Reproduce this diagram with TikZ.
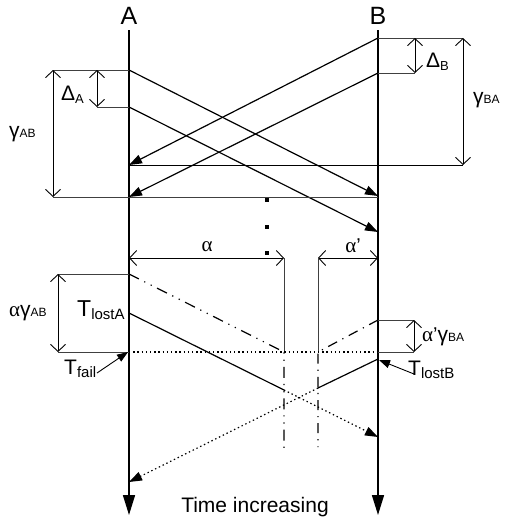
\documentclass[tikz,border=0pt]{standalone}
\usepackage{fontspec}
\setmainfont{Liberation Sans}
\newfontfamily\serifgr{Liberation Serif}
\usetikzlibrary{arrows.meta}
\newcommand\fs[1]{\fontsize{#1}{#1}\selectfont}
\newcommand\mysub[1]{\raisebox{-3pt}{\fs{13}#1}}
\newcommand\mysmall[1]{{\fs{12}#1}}
\newcommand\myalpha{{\serifgr\fs{21}α}}
\begin{document}
\begin{tikzpicture}[x=1pt,y=-1pt,
  axis/.style={line width=1.6pt,-{Triangle[length=20pt,width=12pt]}},
  msg/.style={line width=1.2pt,-{Triangle[length=13pt,width=9pt]}},
  dimline/.style={line width=0.9pt,{Straight Barb[length=7pt,width=15pt]}-{Straight Barb[length=7pt,width=15pt]}},
  extline/.style={line width=0.8pt,black!75},
  ddotline/.style={line width=1.2pt,dash pattern=on 11pt off 6pt on 1.2pt off 6pt on 1.2pt off 6pt},
  dashdotline/.style={line width=1.2pt,dash pattern=on 10pt off 6pt on 1.2pt off 6pt},
  dotline/.style={line width=1.2pt,dash pattern=on 1.4pt off 2.8pt},
  pointer/.style={line width=0.9pt,-{Triangle[length=11pt,width=8pt]}},
  lbl/.style={inner sep=0pt,anchor=base west},
  dotsq/.style={fill=black,inner sep=0pt,minimum size=3.2pt}]
\useasboundingbox (0,0) rectangle (504,517);
% axes
\coordinate (At) at (129,30); \coordinate (Ab) at (129,515);
\coordinate (Bt) at (378,30); \coordinate (Bb) at (378,515);
\draw[axis] (At) -- (Ab);
\draw[axis] (Bt) -- (Bb);
\node[inner sep=0pt,font=\fs{25}] (labA) at (129,16) {A};
\node[inner sep=0pt,font=\fs{25}] (labB) at (378,16) {B};
% top messages
\coordinate (a1) at (129,70);  \coordinate (b1) at (378,196);
\coordinate (a2) at (129,107); \coordinate (b2) at (378,232);
\coordinate (b3) at (378,38);  \coordinate (a3) at (129,165);
\coordinate (b4) at (378,73);  \coordinate (a4) at (129,197);
\draw[msg] (a1) -- (b1);
\draw[msg] (a2) -- (b2);
\draw[msg] (b3) -- (a3);
\draw[msg] (b4) -- (a4);
% horizontals / extension lines
\coordinate (h1r) at (463,165);
\coordinate (h2l) at (53,197); \coordinate (h2r) at (378,197);
\draw[line width=1pt] (a3) -- (h1r);
\draw[extline] (h2l) -- (h2r);
\coordinate (e1l) at (53,70);
\coordinate (e2l) at (97,107);
\coordinate (e3r) at (463,38);
\coordinate (e4r) at (415,73);
\draw[extline] (e1l) -- (a1);
\draw[extline] (e2l) -- (a2);
\draw[extline] (b3) -- (e3r);
\draw[extline] (b4) -- (e4r);
% dimensions top
\coordinate (dA1) at (97,70);
\coordinate (dB1) at (415,38);
\draw[dimline] (e1l) -- (h2l);
\draw[dimline] (dA1) -- (e2l);
\draw[dimline] (dB1) -- (e4r);
\draw[dimline] (e3r) -- (h1r);
\node[lbl] (gAB) at (9,137) {\fs{21}γ\mysmall{AB}};
\node[lbl] (dAl) at (61,100) {\fs{21}Δ\mysub{A}};
\node[lbl] (dBl) at (426,67) {\fs{21}Δ\mysub{B}};
\node[lbl] (gBA) at (473,103) {\fs{21}γ\mysmall{BA}};
% dots
\node[dotsq] (d1) at (267,200) {};
\node[dotsq] (d2) at (267,227) {};
\node[dotsq] (d3) at (267,253) {};
% alpha dimensions
\coordinate (al1) at (129,258); \coordinate (al2) at (284,258);
\coordinate (ap1) at (318,258); \coordinate (ap2) at (378,258);
\draw[dimline] (al1) -- (al2);
\draw[dimline] (ap1) -- (ap2);
\node[inner sep=0pt] (alab) at (207,247) {\myalpha};
\node[inner sep=0pt] (aplab) at (353,246) {\myalpha{\fs{20}'}};
\coordinate (v1) at (284,352); \coordinate (v2) at (318,352);
\draw[extline] (al2) -- (v1);
\draw[extline] (ap1) -- (v2);
% dash-dot lines
\coordinate (fa) at (129,274); \coordinate (v1b) at (284,450);
\coordinate (fb) at (378,320); \coordinate (v2b) at (318,447);
\draw[ddotline] (fa) -- (v1) -- (v1b);
\draw[dashdotline] (fb) -- (v2) -- (v2b);
% dotted failure line
\coordinate (fl) at (129,352); \coordinate (fr) at (378,352);
\draw[dotline] (fl) -- (fr);
% alpha gamma dimensions
\coordinate (g1) at (58,274); \coordinate (g2) at (58,352);
\draw[extline] (g1) -- (fa);
\draw[extline] (g2) -- (fl);
\draw[dimline] (g1) -- (g2);
\node[lbl] (agAB) at (9,316) {\myalpha\fs{21}γ\mysmall{AB}};
\coordinate (k1) at (414,320); \coordinate (k2) at (414,352);
\draw[extline] (fb) -- (k1);
\draw[extline] (fr) -- (k2);
\draw[dimline] (k1) -- (k2);
\node[lbl] (agBA) at (422,341) {\myalpha{\fs{20}'}\fs{21}γ\mysmall{BA}};
% lost messages
\coordinate (la) at (129,313); \coordinate (lam) at (284,390); \coordinate (lae) at (378,437);
\coordinate (lb) at (378,359); \coordinate (lbm) at (318,388); \coordinate (lbe) at (129,482);
\draw[line width=1.2pt] (la) -- (lam);
\draw[dotline,-{Triangle[length=13pt,width=9pt]}] (lam) -- (lae);
\draw[line width=1.2pt] (lb) -- (lbm);
\draw[dotline,-{Triangle[length=13pt,width=9pt]}] (lbm) -- (lbe);
\node[lbl] (tla) at (77,316) {\fs{23}T\mysub{\fs{15}lostA}};
\node[lbl] (tlb) at (408,375) {\fs{21}T\mysub{\fs{15}lostB}};
\node[lbl] (tf) at (64,374) {\fs{21}T\mysub{\fs{15}fail}};
\coordinate (tfs) at (97,373); \coordinate (tft) at (128,352);
\coordinate (tbs) at (414,374); \coordinate (tbt) at (379,360);
\draw[pointer] (tfs) -- (tft);
\draw[pointer] (tbs) -- (tbt);
\node[inner sep=0pt,anchor=base] (time) at (255,512) {\fs{21}Time increasing};
\end{tikzpicture}
\end{document}
